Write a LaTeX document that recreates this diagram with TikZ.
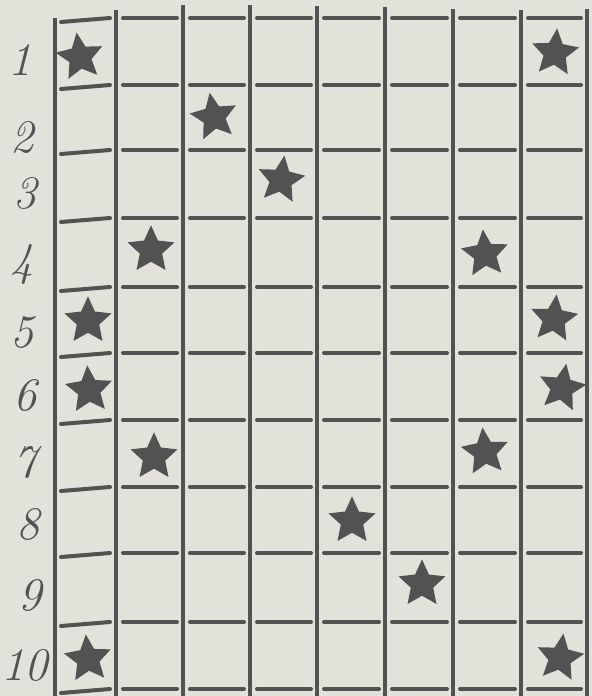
\documentclass[tikz,border=0pt]{standalone}
\usetikzlibrary{shapes.geometric}

\definecolor{paper}{RGB}{226,225,218}
\definecolor{ink}{RGB}{82,82,82}

\begin{document}
\begin{tikzpicture}[
    x=0.75pt, y=-0.75pt,
    vline/.style={ink, line width=3.6pt},
    hbar/.style={ink, line width=3pt, line cap=round},
    starmark/.style={star, star points=5, star point ratio=2.1, fill=ink, draw=none, minimum size=37pt, inner sep=0pt, rotate=#1},
    starmark/.default=0,
    rowlabel/.style={ink, font=\fontsize{35}{35}\selectfont\itshape}
]
    % Fons del paper
    \fill[paper] (0,0) rectangle (592,696);
    \useasboundingbox (0,0) rectangle (592,696);

    % Linies verticals
    \foreach \x/\t in {55/18, 116/10, 183/5, 250/5, 317/6, 385/7, 453/9, 521/10, 587/9} {
        \draw[vline] (\x,\t) -- (\x,696);
    }

    % Traços horitzontals de cada casella
    \foreach \y in {18, 85, 150, 218, 287, 353, 420, 487, 553, 622, 689} {
        \draw[hbar] (61,\y+4) -- (110,\y);
        \foreach \a/\b in {116/183, 183/250, 250/317, 317/385, 385/453, 453/521, 521/587} {
            \draw[hbar] (\a+7,\y) -- (\b-6,\y);
        }
    }

    % Numeros de fila
    \node[rowlabel] (n1) at (20,60) {1};
    \node[rowlabel] (n2) at (22,137) {2};
    \node[rowlabel] (n3) at (25,193) {3};
    \node[rowlabel] (n4) at (22,265) {4};
    \node[rowlabel] (n5) at (22,332) {5};
    \node[rowlabel] (n6) at (25,395) {6};
    \node[rowlabel] (n7) at (25,462) {7};
    \node[rowlabel] (n8) at (28,524) {8};
    \node[rowlabel] (n9) at (30,595) {9};
    \node[rowlabel] (n10) at (25,665) {10};

    % Estrelles
    \node[starmark=8] (s1a) at (80,57) {};
    \node[starmark=-5] (s1b) at (555,53) {};
    \node[starmark=10] (s2) at (214,117) {};
    \node[starmark=-8] (s3) at (281,180) {};
    \node[starmark] (s4a) at (151,250) {};
    \node[starmark=5] (s4b) at (485,254) {};
    \node[starmark] (s5a) at (88,321) {};
    \node[starmark=-6] (s5b) at (554,319) {};
    \node[starmark=4] (s6a) at (89,390) {};
    \node[starmark=-10] (s6b) at (562,388) {};
    \node[starmark] (s7a) at (154,457) {};
    \node[starmark=6] (s7b) at (485,452) {};
    \node[starmark] (s8) at (352,521) {};
    \node[starmark] (s9) at (422,584) {};
    \node[starmark=5] (s10a) at (88,659) {};
    \node[starmark=-8] (s10b) at (560,658) {};
\end{tikzpicture}
\end{document}
